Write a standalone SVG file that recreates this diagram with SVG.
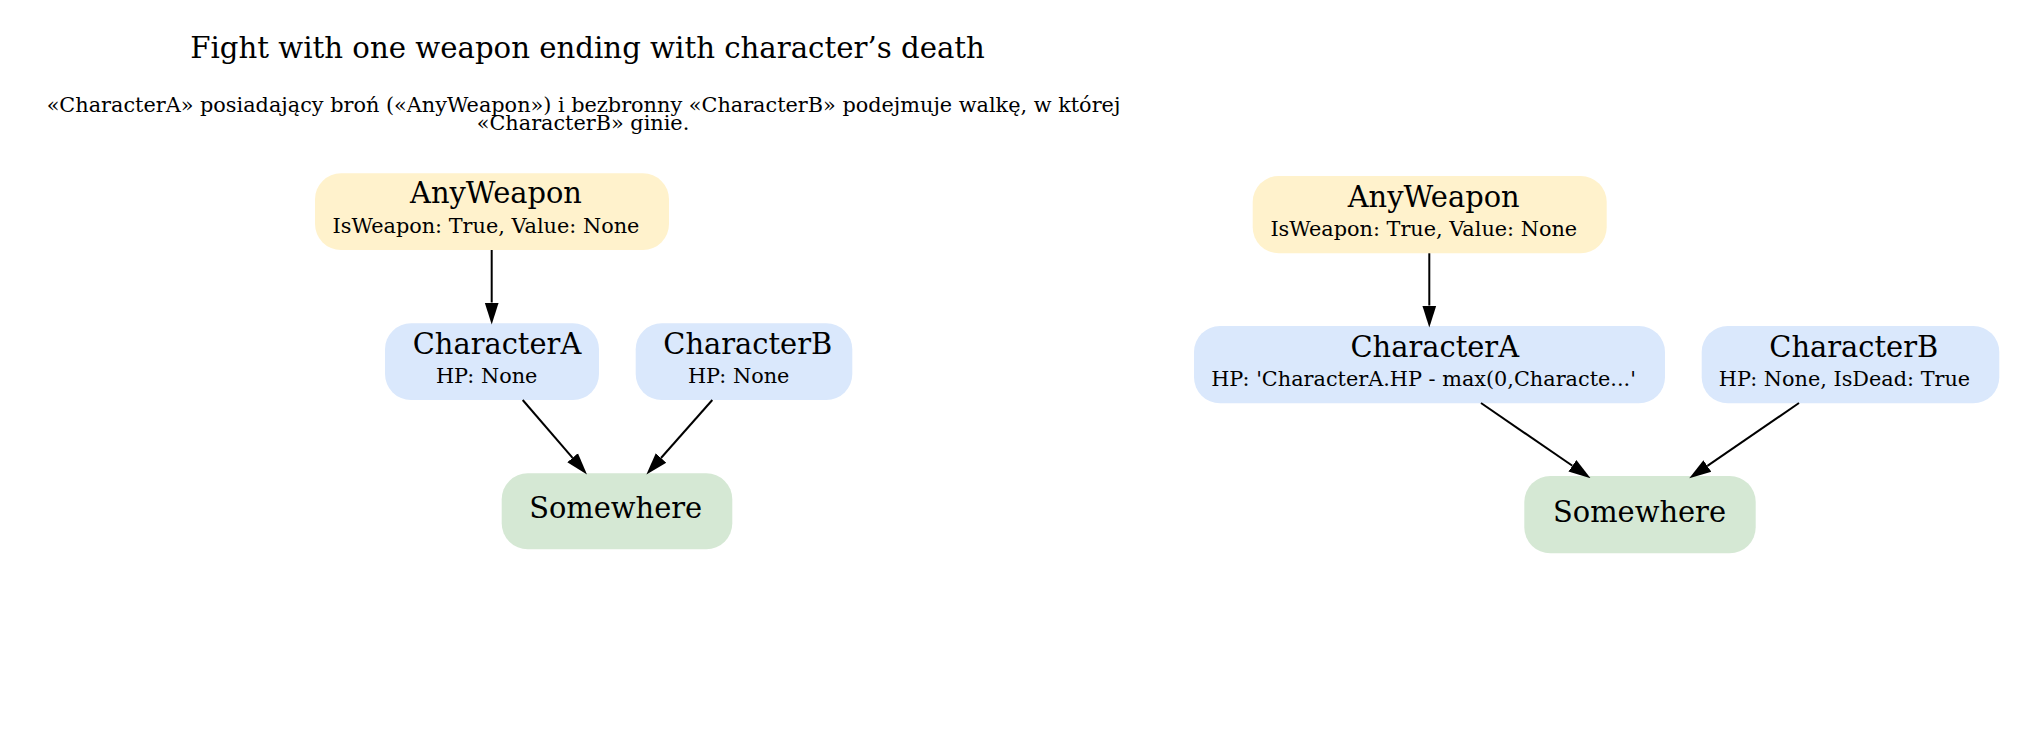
<svg xmlns="http://www.w3.org/2000/svg" width="2027" height="731" viewBox="0 0 2027 731">
<style>
text{font-family:"DejaVu Serif","Liberation Serif",serif;fill:#000}
.h{font-size:29.2px;text-anchor:middle}
.t{font-size:28.9px;text-anchor:middle}
.s{font-size:20.8px;text-anchor:middle}
.weapon{fill:#fff2cc}
.char{fill:#dae8fc}
.place{fill:#d5e8d4}
.edge{stroke:#000;stroke-width:2;fill:none;marker-end:url(#arr)}
</style>
<defs>
<marker id="arr" markerUnits="userSpaceOnUse" markerWidth="22" markerHeight="16" viewBox="0 0 22 16" refX="0" refY="8" orient="auto">
<path d="M0,1 L22,8 L0,15 z" fill="#000"/>
</marker>
</defs>
<rect width="2027" height="731" fill="#fff"/>
<g id="title">
<text class="h" x="587.5" y="58.3">Fight with one weapon ending with character’s death</text>
<text class="s" x="583.5" y="112">«CharacterA» posiadający broń («AnyWeapon») i bezbronny «CharacterB» podejmuje walkę, w której</text>
<text class="s" x="583" y="130">«CharacterB» ginie.</text>
</g>
<g id="left-anyweapon">
<rect class="weapon" x="315" y="173.3" width="354" height="76.7" rx="26"/>
<text class="t" x="496" y="203">AnyWeapon</text>
<text class="s" x="486" y="232.5">IsWeapon: True, Value: None</text>
</g>
<g id="left-charactera">
<rect class="char" x="385" y="323.3" width="214" height="76.7" rx="26"/>
<text class="t" x="497" y="354">CharacterA</text>
<text class="s" x="486.7" y="382.5">HP: None</text>
</g>
<g id="left-characterb">
<rect class="char" x="635.7" y="323.3" width="216.6" height="76.7" rx="26"/>
<text class="t" x="747.8" y="354">CharacterB</text>
<text class="s" x="738.7" y="382.5">HP: None</text>
</g>
<g id="left-somewhere">
<rect class="place" x="501.7" y="473.3" width="230.6" height="76" rx="26"/>
<text class="t" x="615.7" y="518.3">Somewhere</text>
</g>
<g id="right-anyweapon">
<rect class="weapon" x="1252.7" y="176" width="354" height="77.3" rx="26"/>
<text class="t" x="1433.7" y="206.7">AnyWeapon</text>
<text class="s" x="1423.8" y="236">IsWeapon: True, Value: None</text>
</g>
<g id="right-charactera">
<rect class="char" x="1194" y="326" width="471" height="77.3" rx="26"/>
<text class="t" x="1434.8" y="356.7">CharacterA</text>
<text class="s" x="1423.5" y="386">HP: 'CharacterA.HP - max(0,Characte...'</text>
</g>
<g id="right-characterb">
<rect class="char" x="1701.7" y="326" width="297.6" height="77.3" rx="26"/>
<text class="t" x="1853.8" y="356.7">CharacterB</text>
<text class="s" x="1844.5" y="386">HP: None, IsDead: True</text>
</g>
<g id="right-somewhere">
<rect class="place" x="1524.3" y="476" width="231.4" height="77.3" rx="26"/>
<text class="t" x="1639.5" y="522.3">Somewhere</text>
</g>
<g id="connectors">
<path class="edge" d="M491.7,250 L491.7,302.5"/>
<path class="edge" d="M522.7,400 L572.6,457.8"/>
<path class="edge" d="M712.3,400 L661,458"/>
<path class="edge" d="M1429.3,253.3 L1429.3,305.5"/>
<path class="edge" d="M1481,403 L1572.4,465.8"/>
<path class="edge" d="M1799,403 L1707.4,465.9"/>
</g>
</svg>
